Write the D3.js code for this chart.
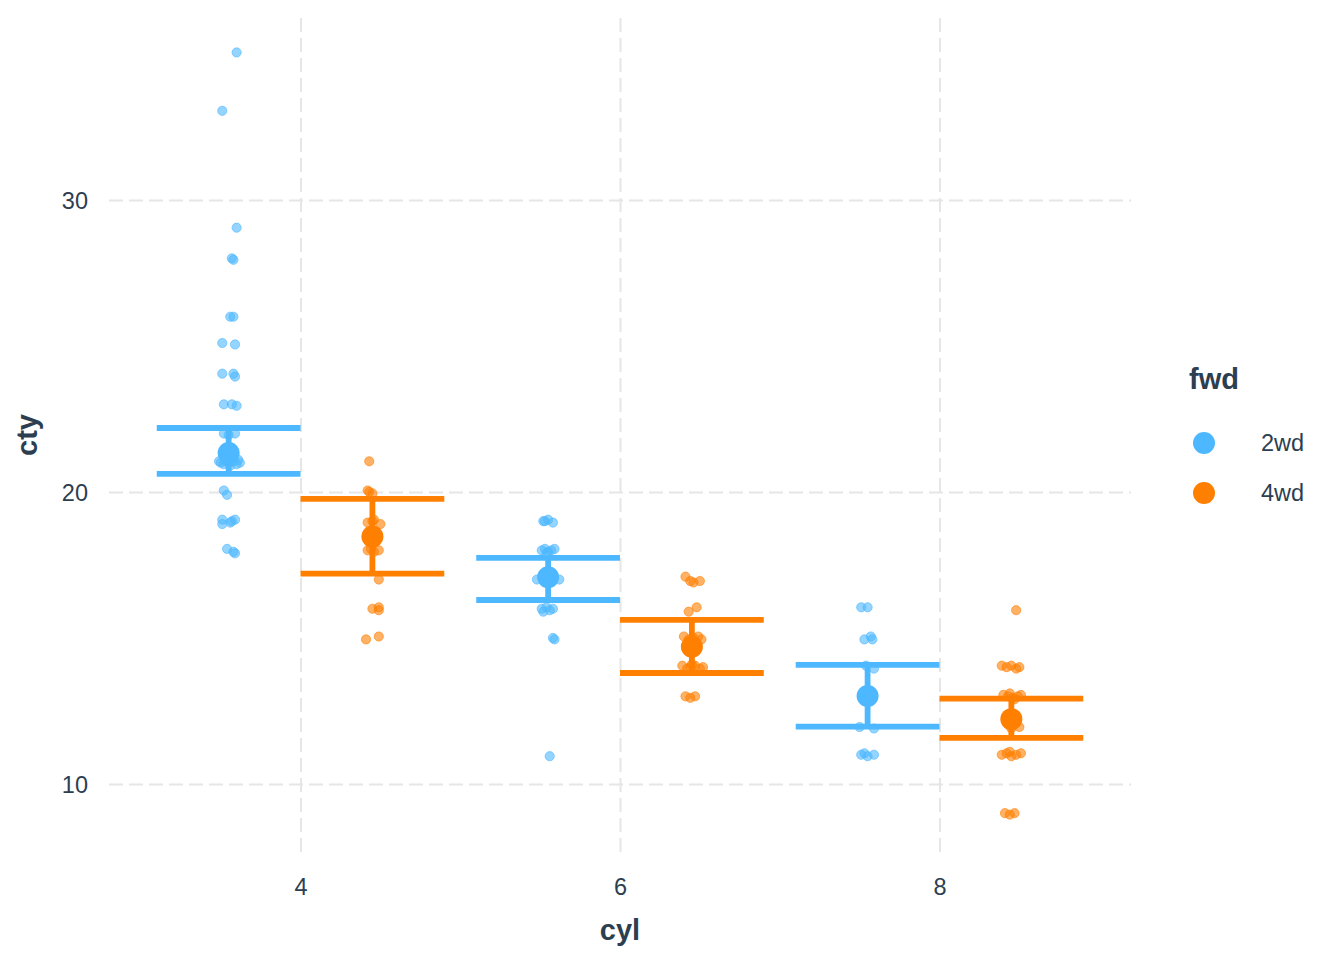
<html>
<head>
  <title></title>
  <script src="https://d3js.org/d3.v7.min.js"></script>
  <style type="text/css">
  body {
    margin: 0;
    background: #fff;
  }
  text {
    font-family: "Liberation Sans", Arial, Helvetica, sans-serif;
    fill: #2c3e50;
  }
  </style>
</head>
<body>
  <div id="viz"></div>

<script type="text/javascript">

const WIDTH = 1344;
const HEIGHT = 960;

const fwdLevels = ["2wd", "4wd"];
const fwdColors = ["#4db8ff", "#ff7f00"];
const cylTicks = [4, 6, 8];
const ctyTicks = [10, 20, 30];

// jittered points: [cyl (dodged + jitter), cty]
const points2wd = [
  [3.60, 35.05], [3.51, 33.05], [3.60, 29.05], [3.57, 28.0], [3.58, 27.95],
  [3.56, 26.0], [3.58, 26.0], [3.51, 25.1], [3.59, 25.05],
  [3.51, 24.05], [3.58, 24.05], [3.59, 23.95],
  [3.52, 23.0], [3.57, 23.0], [3.60, 22.95],
  [3.52, 22.0], [3.59, 22.0], [3.55, 21.95],
  [3.49, 21.05], [3.62, 21.0], [3.52, 20.95], [3.55, 21.0], [3.58, 21.05],
  [3.54, 21.1], [3.60, 20.95], [3.50, 21.0], [3.56, 20.9], [3.53, 21.05], [3.61, 21.1],
  [3.52, 20.05], [3.54, 19.9],
  [3.51, 19.05], [3.56, 18.95], [3.59, 19.05], [3.51, 18.9], [3.57, 19.0],
  [3.54, 18.05], [3.58, 17.95], [3.59, 17.9],
  [5.52, 19.0], [5.55, 19.05], [5.58, 18.95], [5.53, 19.0],
  [5.51, 18.0], [5.53, 18.05], [5.55, 17.95], [5.57, 18.0], [5.59, 18.05], [5.54, 17.9],
  [5.48, 17.0], [5.62, 17.0], [5.55, 17.05], [5.53, 16.95],
  [5.51, 16.0], [5.54, 16.05], [5.56, 15.95], [5.58, 16.0], [5.52, 15.9],
  [5.58, 15.0], [5.59, 14.95],
  [5.56, 10.95],
  [7.51, 16.05], [7.55, 16.05],
  [7.53, 14.95], [7.57, 15.05], [7.58, 14.95],
  [7.54, 14.05], [7.59, 13.95],
  [7.50, 11.95], [7.59, 11.9],
  [7.51, 11.0], [7.53, 11.05], [7.55, 10.95], [7.59, 11.0]
];

const points4wd = [
  [4.43, 21.05], [4.42, 20.05], [4.45, 19.95], [4.43, 20.0],
  [4.42, 18.95], [4.50, 18.9], [4.46, 19.05], [4.45, 19.0],
  [4.42, 18.0], [4.49, 18.0], [4.46, 17.95], [4.44, 18.05],
  [4.49, 17.0], [4.45, 16.0], [4.49, 16.05], [4.49, 15.95],
  [4.41, 14.95], [4.49, 15.05],
  [6.41, 17.1], [6.44, 16.95], [6.46, 16.9], [6.50, 16.95],
  [6.43, 15.9], [6.48, 16.05],
  [6.40, 15.05], [6.43, 14.95], [6.46, 15.0], [6.49, 15.05], [6.51, 14.95],
  [6.39, 14.05], [6.42, 13.95], [6.44, 14.0], [6.47, 14.05], [6.50, 13.95], [6.52, 14.0], [6.45, 14.1],
  [6.41, 13.0], [6.47, 13.0], [6.44, 12.95],
  [8.48, 15.95],
  [8.39, 14.05], [8.42, 14.0], [8.45, 14.05], [8.48, 13.95], [8.50, 14.0],
  [8.40, 13.05], [8.43, 13.0], [8.46, 12.95], [8.49, 13.0], [8.51, 13.05], [8.44, 13.1], [8.47, 12.9],
  [8.45, 11.9], [8.50, 11.95],
  [8.39, 11.0], [8.42, 11.05], [8.45, 10.95], [8.48, 11.0], [8.51, 11.05], [8.44, 11.1],
  [8.41, 9.0], [8.47, 9.0], [8.44, 8.95]
];

// summaries per dodged group
const sumCyl = [3.55, 4.45, 5.55, 6.45, 7.55, 8.45];
const sumFwd = ["2wd", "4wd", "2wd", "4wd", "2wd", "4wd"];
const sumMean = [21.33, 18.47, 17.08, 14.70, 13.01, 12.22];
const sumLow = [20.62, 17.20, 16.30, 13.80, 11.96, 11.58];
const sumHigh = [22.19, 19.76, 17.74, 15.62, 14.08, 12.92];
const barHalf = 0.45;

const panel = {left: 109, right: 1131, top: 18, bottom: 852};

const color = d3.scaleOrdinal().domain(fwdLevels).range(fwdColors);

const x = d3.scaleLinear()
  .domain([2.801, 9.199])
  .range([panel.left, panel.right]);

const y = d3.scaleLinear()
  .domain([7.67, 36.23])
  .range([panel.bottom, panel.top]);

let svg = d3.select("#viz")
  .append("svg")
  .attr("width", WIDTH)
  .attr("height", HEIGHT);

// grid + tick labels from the axes
let xAxis = svg.append("g")
  .attr("transform", `translate(0,${panel.bottom})`)
  .call(d3.axisBottom(x)
    .tickValues(cylTicks)
    .tickFormat(d3.format("d"))
    .tickSizeInner(-(panel.bottom - panel.top))
    .tickSizeOuter(0)
    .tickPadding(26));

let yAxis = svg.append("g")
  .attr("transform", `translate(${panel.left},0)`)
  .call(d3.axisLeft(y)
    .tickValues(ctyTicks)
    .tickFormat(d3.format("d"))
    .tickSizeInner(-(panel.right - panel.left))
    .tickSizeOuter(0)
    .tickPadding(21));

[xAxis, yAxis].forEach(ax => {
  ax.select(".domain").remove();
  ax.selectAll(".tick line")
    .attr("stroke", "#e6e6e6")
    .attr("stroke-width", 2)
    .attr("stroke-dasharray", "14,6");
  ax.selectAll(".tick text")
    .attr("fill", "#34495e")
    .style("font-size", "23.5px");
});
yAxis.selectAll(".tick text").attr("dy", "0.36em");
xAxis.selectAll(".tick text").attr("dy", "0.71em");

// jittered points
let pointData = points2wd.map(p => ({fwd: "2wd", x: p[0], y: p[1]}))
  .concat(points4wd.map(p => ({fwd: "4wd", x: p[0], y: p[1]})));

svg.append("g").selectAll("circle")
  .data(pointData)
  .enter().append("circle")
  .attr("cx", d => x(d.x))
  .attr("cy", d => y(d.y))
  .attr("r", 4.6)
  .attr("fill", d => color(d.fwd))
  .attr("fill-opacity", 0.6)
  .attr("stroke", d => color(d.fwd))
  .attr("stroke-opacity", 0.6)
  .attr("stroke-width", 1);

// error bars
let summary = sumCyl.map((c, i) => ({
  cyl: c, fwd: sumFwd[i], mean: sumMean[i], low: sumLow[i], high: sumHigh[i]
}));

let bars = svg.append("g").selectAll("g")
  .data(summary)
  .enter().append("g")
  .attr("stroke", d => color(d.fwd))
  .attr("stroke-width", 5.8)
  .attr("fill", "none");

bars.append("line")
  .attr("x1", d => x(d.cyl))
  .attr("x2", d => x(d.cyl))
  .attr("y1", d => y(d.low))
  .attr("y2", d => y(d.high));

bars.append("line")
  .attr("x1", d => x(d.cyl - barHalf))
  .attr("x2", d => x(d.cyl + barHalf))
  .attr("y1", d => y(d.high))
  .attr("y2", d => y(d.high));

bars.append("line")
  .attr("x1", d => x(d.cyl - barHalf))
  .attr("x2", d => x(d.cyl + barHalf))
  .attr("y1", d => y(d.low))
  .attr("y2", d => y(d.low));

// means
svg.append("g").selectAll("circle")
  .data(summary)
  .enter().append("circle")
  .attr("cx", d => x(d.cyl))
  .attr("cy", d => y(d.mean))
  .attr("r", 11)
  .attr("fill", d => color(d.fwd));

// axis titles
svg.append("text")
  .attr("x", (panel.left + panel.right) / 2)
  .attr("y", 940)
  .attr("text-anchor", "middle")
  .style("font-size", "29px")
  .style("font-weight", "bold")
  .text("cyl");

svg.append("text")
  .attr("transform", `translate(37,${(panel.top + panel.bottom) / 2}) rotate(-90)`)
  .attr("text-anchor", "middle")
  .style("font-size", "29px")
  .style("font-weight", "bold")
  .text("cty");

// legend
let legend = svg.append("g");

legend.append("text")
  .attr("x", 1189)
  .attr("y", 389)
  .style("font-size", "29px")
  .style("font-weight", "bold")
  .text("fwd");

let keys = legend.selectAll(".key")
  .data(fwdLevels)
  .enter().append("g")
  .attr("class", "key")
  .attr("transform", (d, i) => `translate(0,${443 + i * 50})`);

keys.append("circle")
  .attr("cx", 1204)
  .attr("cy", 0)
  .attr("r", 11)
  .attr("fill", d => color(d));

keys.append("text")
  .attr("x", 1261)
  .attr("y", 0)
  .attr("dy", "0.36em")
  .style("font-size", "23.5px")
  .text(d => d);

</script>
</body>
</html>
